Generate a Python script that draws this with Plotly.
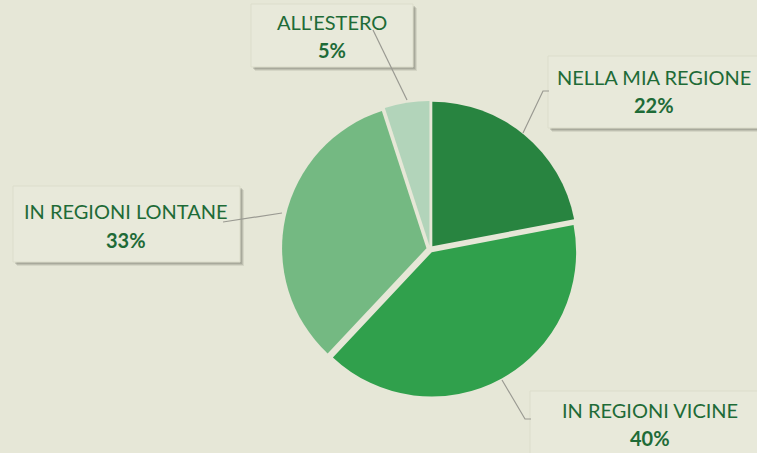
import plotly.graph_objects as go

W, H = 757, 453

labels = ["NELLA MIA REGIONE", "IN REGIONI VICINE", "IN REGIONI LONTANE", "ALL'ESTERO"]
values = [22, 40, 33, 5]
colors = ["#288440", "#30A04C", "#74B982", "#B2D4BA"]

bg = "#E6E7D7"
txt = "#1E6B37"

# label boxes in pixels: x0, y0, x1, y1 (top-left origin)
boxes = [(548, 56, 760, 128), (530, 391, 760, 460), (13, 186, 240, 262), (251, 4, 413, 67)]
# text centres: x, y of first line, y of second line
text_pos = [(654, 77, 105), (650, 410, 438), (126, 211, 240), (332, 22, 50)]
# leader lines as pixel points
leaders = [
    [(523, 133), (543, 91), (549, 91)],
    [(502, 380), (525, 419), (531, 419)],
    [(282, 213), (223, 222)],
    [(407, 100), (373, 30)],
]


def px(x, y):
    return x / W, 1 - y / H


fig = go.Figure()
fig.add_trace(go.Pie(
    labels=labels,
    values=values,
    marker=dict(colors=colors, line=dict(width=0)),
    sort=False,
    direction="clockwise",
    rotation=0,
    pull=[0.025] * 4,
    textinfo="none",
    domain=dict(x=[282 / W, 578 / W], y=[1 - 397 / H, 1 - 101 / H]),
    showlegend=False,
))

shapes = []
annotations = []
for (x0, y0, x1, y1), (tx, ty1, ty2), lab, val in zip(boxes, text_pos, labels, values):
    # soft shadow
    for off, alpha in ((4, 0.12), (3, 0.18), (2, 0.22)):
        a0, b0 = px(x0 + off, y0 + off)
        a1, b1 = px(x1 + off, y1 + off)
        shapes.append(dict(type="rect", xref="paper", yref="paper", x0=a0, y0=b1, x1=a1, y1=b0,
                           fillcolor=f"rgba(90,90,80,{alpha})", line=dict(width=0), layer="below"))
    a0, b0 = px(x0, y0)
    a1, b1 = px(x1, y1)
    shapes.append(dict(type="rect", xref="paper", yref="paper", x0=a0, y0=b1, x1=a1, y1=b0,
                       fillcolor="#E8E9DA", line=dict(width=1, color="#DCDDCB"), layer="below"))
    for ty, t in ((ty1, lab), (ty2, f"<b>{val}%</b>")):
        cx, cy = px(tx, ty)
        annotations.append(dict(
            x=cx, y=cy, xref="paper", yref="paper", showarrow=False,
            xanchor="center", yanchor="middle",
            text=t,
            font=dict(family="Lato", size=20, color=txt),
        ))

for pts in leaders:
    p = [px(x, y) for x, y in pts]
    path = "M " + " L ".join(f"{x},{y}" for x, y in p)
    shapes.append(dict(type="path", xref="paper", yref="paper", path=path,
                       line=dict(color="#9A9A92", width=1.2)))

fig.update_layout(
    width=W, height=H,
    margin=dict(l=0, r=0, t=0, b=0),
    paper_bgcolor=bg,
    plot_bgcolor=bg,
    shapes=shapes,
    annotations=annotations,
)

fig.write_html("out.html", config={"displayModeBar": False},
               post_script="document.body.style.margin='0';")
